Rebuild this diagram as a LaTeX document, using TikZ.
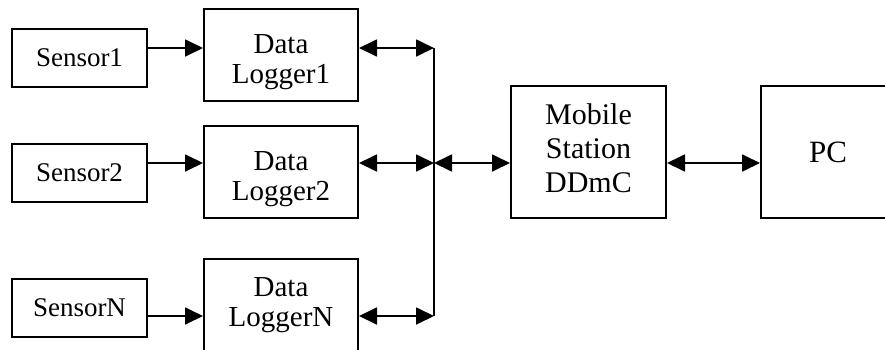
\documentclass[tikz,border=0pt]{standalone}
\usepackage{fontspec}
\setmainfont{Liberation Serif}
\usetikzlibrary{arrows.meta}

\begin{document}
\begin{tikzpicture}[x=0.5pt,y=-0.5pt,
		box/.style={draw=black,line width=1pt,inner sep=0pt,align=center,font=\fontsize{13.5}{13.5}\selectfont},
		sensorbox/.style={box,minimum width=67.5pt,minimum height=29pt},
		loggerbox/.style={box,minimum width=77pt,minimum height=46pt,font=\fontsize{14.5}{15}\selectfont},
		stationbox/.style={box,minimum width=77.5pt,minimum height=66pt,font=\fontsize{15}{17}\selectfont},
		pcbox/.style={box,minimum width=67pt,minimum height=66pt,font=\fontsize{15.5}{15.5}\selectfont},
		link/.style={line width=0.9pt,-{Triangle[length=9pt,width=8.5pt]}},
		duplex/.style={line width=0.9pt,{Triangle[length=9pt,width=8.5pt]}-{Triangle[length=9pt,width=8.5pt]}}]
	\useasboundingbox (0,0) rectangle (885,349);
	\clip (0,0) rectangle (885,349);
	% sensors
	\node[sensorbox] (s1) at (79.5,57.5) {Sensor1};
	\node[sensorbox] (s2) at (79.5,173) {Sensor2};
	\node[sensorbox] (sN) at (79.5,307.5) {SensorN};
	% loggers
	\node[loggerbox] (l1) at (281,55) {\rule{0pt}{17pt}Data\\Logger1};
	\node[loggerbox] (l2) at (281,171.5) {\rule{0pt}{17pt}Data\\Logger2};
	\node[loggerbox] (lN) at (281,305) {Data\\LoggerN};
	% station and pc
	\node[stationbox] (ms) at (588.5,152) {Mobile\\Station\\DDmC\rule[-4pt]{0pt}{0pt}};
	\node[pcbox] (pc) at (828,152) {PC};
	% bus
	\coordinate (b1) at (434,48);
	\coordinate (b2) at (434,163);
	\coordinate (bN) at (434,316);
	\draw[line width=0.9pt] (b1) -- (bN);
	\draw[link] (s1.east |- b1) -- (l1.west |- b1);
	\draw[link] (s2.east |- b2) -- (l2.west |- b2);
	\draw[link] (sN.east |- bN) -- (lN.west |- bN);
	\draw[duplex] (l1.east |- b1) -- (b1);
	\draw[duplex] (l2.east |- b2) -- (b2);
	\draw[duplex] (lN.east |- bN) -- (bN);
	\draw[duplex] (b2) -- (ms.west |- b2);
	\draw[duplex] (ms.east |- b2) -- (pc.west |- b2);
\end{tikzpicture}
\end{document}
